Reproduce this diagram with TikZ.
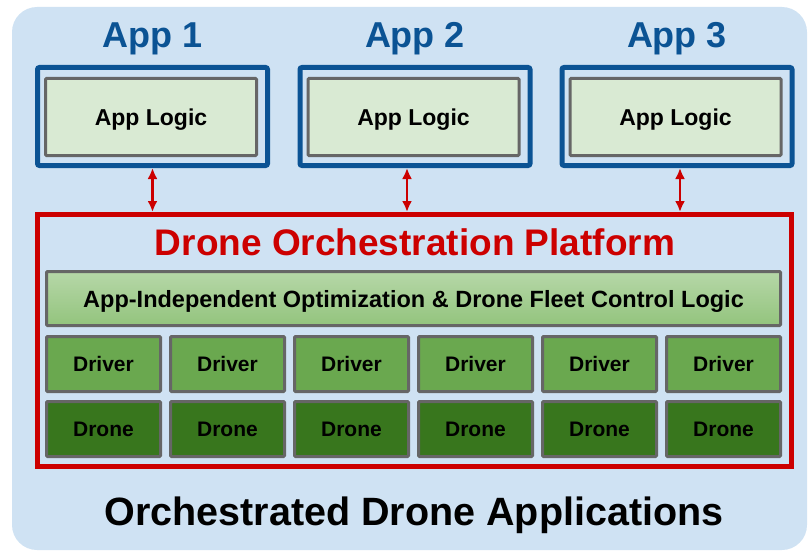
\documentclass[tikz,border=0pt]{standalone}
\usepackage{fontspec}
\setmainfont{Liberation Sans}
\usetikzlibrary{arrows.meta}
\definecolor{bgblue}{HTML}{CFE2F3}
\definecolor{appblue}{HTML}{0B5394}
\definecolor{platred}{HTML}{CC0000}
\definecolor{boxgray}{HTML}{666666}
\definecolor{logicgreen}{HTML}{D9EAD3}
\definecolor{fleettop}{HTML}{B6D7A8}
\definecolor{fleetbottom}{HTML}{93C47D}
\definecolor{drivergreen}{HTML}{6AA84F}
\definecolor{dronegreen}{HTML}{38761D}

\begin{document}
\begin{tikzpicture}[x=1pt, y=-1pt,
    appbox/.style={draw=appblue, line width=5pt, rounded corners=2pt,
                   minimum width=230pt, minimum height=98pt},
    logic/.style={draw=boxgray, line width=3pt, fill=logicgreen, rounded corners=1pt,
                  minimum width=211pt, minimum height=77pt, text depth=0pt,
                  font=\bfseries\fontsize{23}{27}\selectfont},
    applabel/.style={anchor=base, text=appblue, font=\bfseries\fontsize{36}{40}\selectfont},
    cell/.style={draw=boxgray, line width=3pt, rounded corners=1pt,
                 minimum width=114pt, minimum height=55pt,
                 font=\bfseries\fontsize{21}{25}\selectfont},
    driver/.style={cell, fill=drivergreen},
    drone/.style={cell, fill=dronegreen},
    link/.style={{Latex[length=11pt,width=10pt]}-{Latex[length=11pt,width=10pt]}, draw=platred, line width=2.2pt}
  ]
    \useasboundingbox (0,0) rectangle (809,551);
    \fill[bgblue, rounded corners=25pt] (12,7) rectangle (807,550);

    % apps
    \node[appbox] (app1) at (152.5,116.5) {};
    \node[appbox] (app2) at (415,116.5) {};
    \node[appbox] (app3) at (677,116.5) {};
    \node[logic] (logic1) at (151,117) {App Logic};
    \node[logic] (logic2) at (413.5,117) {App Logic};
    \node[logic] (logic3) at (675.5,117) {App Logic};
    \node[applabel] (label1) at (152.5,48) {App 1};
    \node[applabel] (label2) at (415,48) {App 2};
    \node[applabel] (label3) at (677,48) {App 3};

    % platform
    \node[draw=platred, line width=5pt, minimum width=754pt, minimum height=252pt]
      (platform) at (414.5,340.5) {};
    \node[anchor=base, text=platred, font=\bfseries\fontsize{37}{41}\selectfont]
      (title) at (415,255) {Drone Orchestration Platform};
    \node[draw=boxgray, line width=3pt, rounded corners=1pt, top color=fleettop, bottom color=fleetbottom,
          minimum width=734pt, minimum height=54pt, text depth=0pt,
          font=\bfseries\fontsize{23.5}{27}\selectfont]
      (fleet) at (413.5,298.5) {App-Independent Optimization \& Drone Fleet Control Logic};
    \foreach \i in {1,...,6} {
      \node[driver] (driver\i) at ({103.5+124*(\i-1)},364) {Driver};
      \node[drone]  (drone\i)  at ({103.5+124*(\i-1)},429) {Drone};
    }

    \node[anchor=base, font=\bfseries\fontsize{39.5}{43}\selectfont] (caption) at (414,525)
      {Orchestrated Drone Applications};

    \draw[link] (app1.south) -- (app1.south |- platform.north);
    \draw[link] ([xshift=-8pt]app2.south) -- ([xshift=-8pt]app2.south |- platform.north);
    \draw[link] ([xshift=3pt]app3.south) -- ([xshift=3pt]app3.south |- platform.north);
\end{tikzpicture}
\end{document}
